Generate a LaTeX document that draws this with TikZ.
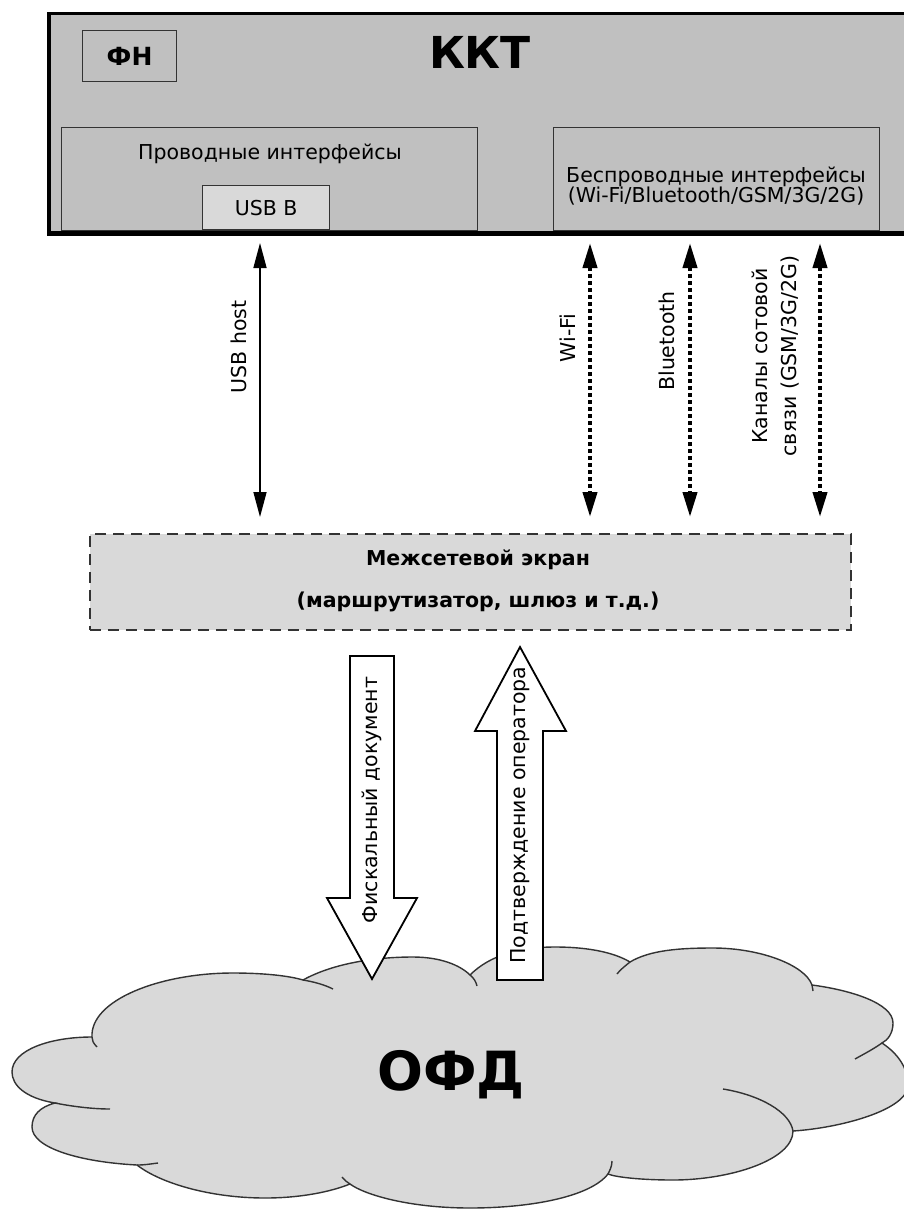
\documentclass[tikz,border=0pt]{standalone}
\usepackage{fontspec}
\setmainfont{DejaVu Sans}
\usetikzlibrary{arrows.meta}
\definecolor{kktgray}{HTML}{C0C0C0}
\definecolor{lightgrayfill}{HTML}{D9D9D9}
\definecolor{edgegray}{HTML}{333333}
\tikzset{
  outerbox/.style={draw=black, line width=3.5pt, fill=kktgray, inner sep=0pt, anchor=north west},
  innerbox/.style={draw=edgegray, line width=1.2pt, inner sep=0pt, anchor=north west},
  fwbox/.style={draw=edgegray, line width=1.5pt, dash pattern=on 11pt off 7pt, fill=lightgrayfill, inner sep=0pt, anchor=north west},
  regtext/.style={font=\fontsize{20.5}{20}\selectfont, inner sep=0pt, align=center},
  boldtext/.style={font=\bfseries\fontsize{20.5}{42}\selectfont, inner sep=0pt, align=center},
  thinarrow/.style={line width=1.5pt, {Triangle[length=25pt,width=13pt]}-{Triangle[length=25pt,width=13pt]}},
  dotarrow/.style={line width=4pt, dash pattern=on 4pt off 3pt, {Triangle[length=25pt,width=14pt]}-{Triangle[length=25pt,width=14pt]}},
  blockarrow/.style={draw=black, line width=1.8pt, fill=white, line join=miter},
  cloudline/.style={draw=edgegray, line width=1.4pt},
}
\begin{document}
\begin{tikzpicture}[x=1pt,y=-1pt]
\useasboundingbox (0,0) rectangle (904,1209);
\fill[white] (0,0) rectangle (904,1209);

% KKT block
\node[outerbox, minimum width=870pt, minimum height=219pt] (kkt) at (47,12) {};
\node[innerbox, minimum width=94pt, minimum height=51pt] (fnbox) at (82,30) {};
\node[font=\bfseries\fontsize{25}{26}\selectfont, inner sep=0pt] (fn) at (fnbox.center) {ФН};
\node[font=\bfseries\fontsize{44}{46}\selectfont, inner sep=0pt] (kkttitle) at (480,52) {ККТ};

\node[innerbox, minimum width=416pt, minimum height=103pt] (wired) at (61,127) {};
\node[regtext] (wiredtext) at (270,154) {Проводные интерфейсы};
\node[innerbox, fill=lightgrayfill, minimum width=127pt, minimum height=44pt] (usbb) at (202,185) {};
\node[regtext] (usbbtext) at (usbb.center) {USB B};

\node[innerbox, minimum width=326pt, minimum height=103pt] (wireless) at (553,127) {};
\node[regtext] (wirelesstext) at (716,186) {Беспроводные интерфейсы\\(Wi-Fi/Bluetooth/GSM/3G/2G)};

% redraw outer bottom line over inner boxes
\draw[line width=3.5pt] (kkt.south west) -- (kkt.south east);

% firewall
\node[fwbox, minimum width=761pt, minimum height=96pt] (fw) at (89,533) {};
\node[boldtext] (fwtext) at (478,581) {Межсетевой экран\\(маршрутизатор, шлюз и т.д.)};

% thin connectors
\coordinate (usbA) at (260,243);
\coordinate (usbB) at (260,517);
\coordinate (wifiA) at (590,243);
\coordinate (wifiB) at (590,517);
\coordinate (btA) at (690,243);
\coordinate (btB) at (690,517);
\coordinate (gsmA) at (820,243);
\coordinate (gsmB) at (820,517);
\draw[thinarrow] (usbA) -- (usbB);
\draw[dotarrow] (wifiA) -- (wifiB);
\draw[dotarrow] (btA) -- (btB);
\draw[dotarrow] (gsmA) -- (gsmB);
\node[regtext, rotate=90] (usblabel) at (239,347) {USB host};
\node[regtext, rotate=90] (wifilabel) at (568,338) {Wi-Fi};
\node[regtext, rotate=90] (btlabel) at (667,341) {Bluetooth};
\node[regtext, rotate=90, font=\fontsize{20.5}{29}\selectfont] (gsmlabel) at (776,356) {Каналы сотовой\\связи (GSM/3G/2G)};

% cloud
\path[cloudline, fill=lightgrayfill] (92,1037)
 .. controls (90,1000) and (160,973) .. (233,973)
 .. controls (265,973) and (290,976) .. (303,980)
 .. controls (330,965) and (370,957) .. (413,957)
 .. controls (440,957) and (460,965) .. (470,975)
 .. controls (490,955) and (520,947) .. (555,947)
 .. controls (590,947) and (615,953) .. (630,962)
 .. controls (650,950) and (680,948) .. (713,948)
 .. controls (760,948) and (805,965) .. (812,985)
 .. controls (850,990) and (893,1003) .. (893,1023)
 .. controls (893,1033) and (888,1040) .. (882,1043)
 .. controls (900,1055) and (908,1070) .. (908,1085)
 .. controls (908,1110) and (840,1128) .. (793,1131)
 .. controls (793,1160) and (730,1180) .. (673,1180)
 .. controls (640,1180) and (615,1177) .. (608,1174)
 .. controls (590,1197) and (530,1208) .. (470,1208)
 .. controls (410,1208) and (365,1195) .. (350,1184)
 .. controls (330,1192) and (300,1198) .. (265,1198)
 .. controls (210,1198) and (160,1183) .. (137,1165)
 .. controls (80,1162) and (32,1148) .. (32,1127)
 .. controls (32,1115) and (40,1107) .. (55,1103)
 .. controls (25,1098) and (12,1085) .. (12,1072)
 .. controls (12,1050) and (50,1037) .. (92,1037)
 -- cycle;
\draw[cloudline] (97,1047) .. controls (93,1043) and (92,1040) .. (92,1037);
\draw[cloudline] (303,980) .. controls (315,982) and (325,985) .. (333,989);
\draw[cloudline] (470,975) .. controls (474,978) and (476,982) .. (477,986);
\draw[cloudline] (630,962) .. controls (625,966) and (620,970) .. (617,974);
\draw[cloudline] (812,985) -- (813,991);
\draw[cloudline] (882,1043) .. controls (872,1050) and (862,1055) .. (855,1059);
\draw[cloudline] (723,1089) .. controls (760,1095) and (790,1112) .. (793,1131);
\draw[cloudline] (608,1174) .. controls (610,1170) and (612,1166) .. (612,1161);
\draw[cloudline] (350,1184) .. controls (347,1182) and (344,1180) .. (342,1177);
\draw[cloudline] (137,1165) .. controls (145,1165) and (150,1164) .. (158,1163);
\draw[cloudline] (55,1103) .. controls (75,1107) and (95,1109) .. (110,1109);
\node[font=\bfseries\fontsize{54}{56}\selectfont, inner sep=0pt] (ofd) at (451,1075) {ОФД};

% block arrows
\draw[blockarrow] (350,656) -- (394,656) -- (394,898) -- (417,898) -- (372,979) -- (327,898) -- (350,898) -- cycle;
\draw[blockarrow] (497,980) -- (543,980) -- (543,731) -- (566,731) -- (520,647) -- (475,731) -- (497,731) -- cycle;
\node[regtext, rotate=90] (fisc) at (372,800) {Фискальный документ};
\node[regtext, rotate=90] (conf) at (520,815) {Подтверждение оператора};
\end{tikzpicture}
\end{document}
